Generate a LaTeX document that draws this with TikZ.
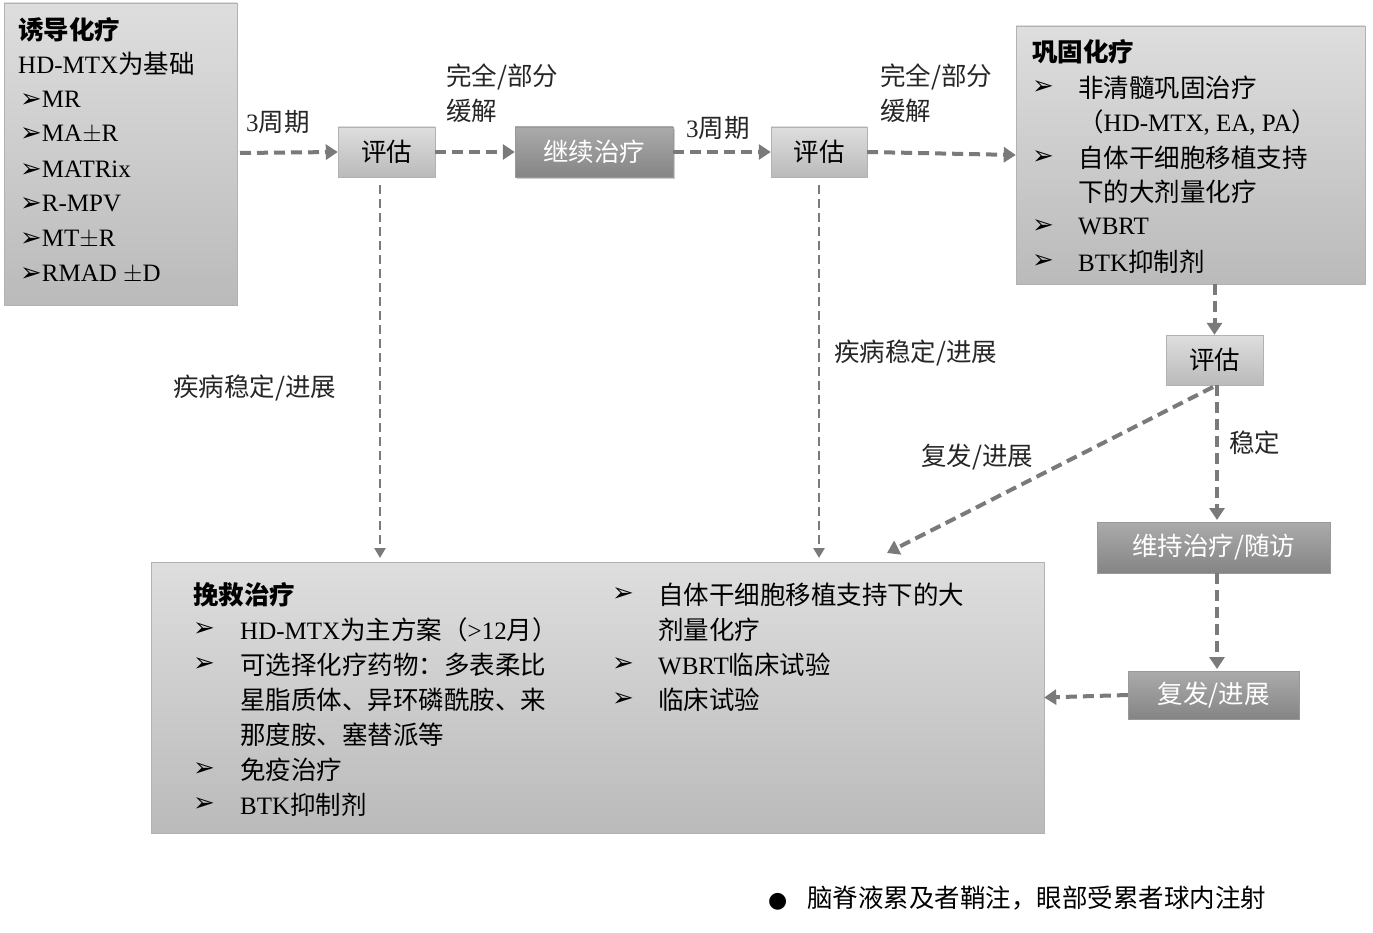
\documentclass[tikz,border=0pt]{standalone}
\usepackage{fontspec}
\setmainfont{Liberation Serif}
\newfontfamily\cjk{Noto Sans CJK SC}
\newfontfamily\dejavu{DejaVu Sans}
\newcommand{\zh}[1]{{\cjk\fontsize{25.5}{28}\selectfont #1}}
\newcommand{\arr}{{\dejavu\fontsize{26}{28}\selectfont ➢}}
\usetikzlibrary{shadows,arrows.meta}
\tikzset{
  lightbox/.style={draw=black!30, top color=black!13, bottom color=black!27, inner sep=0pt},
  darkbox/.style={draw=black!40, top color=black!33, bottom color=black!48, text=white, inner sep=0pt},
  flow/.style={draw=black!52, line width=4pt, dash pattern=on 11pt off 6pt, -{Triangle[length=12pt,width=15pt]}},
  thinflow/.style={draw=black!52, line width=2.8pt, dash pattern=on 9pt off 5pt, -{Triangle[length=10pt,width=11pt]}},
  lbl/.style={anchor=west, inner sep=0pt, text=black!85},
  ln/.style={anchor=west, inner sep=0pt}
}
\begin{document}
\begin{tikzpicture}[x=1pt,y=-1pt,font=\fontsize{25}{28}\selectfont]
\useasboundingbox (0,0) rectangle (1373,933);
% boxes
\node[lightbox, minimum width=233pt, minimum height=302pt] (induct) at (120.5,154) {};
\node[lightbox, minimum width=97pt, minimum height=50pt] (evalA) at (386.5,152) {\zh{评估}};
\node[darkbox, minimum width=158pt, minimum height=50pt, drop shadow={opacity=0.4}] (cont) at (594,152) {\zh{继续治疗}};
\node[lightbox, minimum width=96pt, minimum height=50pt] (evalB) at (819,152) {\zh{评估}};
\node[lightbox, minimum width=349pt, minimum height=258pt] (consol) at (1190.5,155) {};
\node[lightbox, minimum width=97pt, minimum height=50pt] (evalC) at (1214.5,360) {\zh{评估}};
\node[darkbox, minimum width=233pt, minimum height=51pt] (maint) at (1213.5,547.5) {\zh{维持治疗/随访}};
\node[darkbox, minimum width=171pt, minimum height=48pt] (relapse) at (1213.5,695) {\zh{复发/进展}};
\node[lightbox, minimum width=893pt, minimum height=271pt] (salv) at (597.5,697.5) {};
% induction text
\node[ln] (i0) at (18,30) {\zh{\bfseries 诱导化疗}};
\node[ln] (i1) at (18,64) {HD-MTX\zh{为基础}};
\foreach \t [count=\k] in {MR,MA$\pm$R,MATRix,R-MPV,MT$\pm$R,RMAD $\pm$D}
  \node[ln] (ib\k) at (20,64+\k*35) {\arr\t};
% consolidation text
\node[ln] (c0) at (1032,52) {\zh{\bfseries 巩固化疗}};
\node[ln] at (1032,88) {\arr};   \node[ln] at (1078,88) {\zh{非清髓巩固治疗}};
\node[ln] at (1078,123) {\zh{（}HD-MTX, EA, PA\zh{）}};
\node[ln] at (1032,158) {\arr};  \node[ln] at (1078,158) {\zh{自体干细胞移植支持}};
\node[ln] at (1078,192) {\zh{下的大剂量化疗}};
\node[ln] at (1032,227) {\arr};  \node[ln] at (1078,227) {WBRT};
\node[ln] at (1032,262) {\arr};  \node[ln] at (1078,262) {BTK\zh{抑制剂}};
% salvage text
\node[ln] at (193,595) {\zh{\bfseries 挽救治疗}};
\node[ln] at (193,630) {\arr}; \node[ln] at (240,630) {HD-MTX\zh{为主方案（}>12\zh{月）}};
\node[ln] at (193,665) {\arr}; \node[ln] at (240,665) {\zh{可选择化疗药物：多表柔比}};
\node[ln] at (240,700) {\zh{星脂质体、异环磷酰胺、来}};
\node[ln] at (240,735) {\zh{那度胺、塞替派等}};
\node[ln] at (193,770) {\arr}; \node[ln] at (240,770) {\zh{免疫治疗}};
\node[ln] at (193,805) {\arr}; \node[ln] at (240,805) {BTK\zh{抑制剂}};
\node[ln] at (612,595) {\arr}; \node[ln] at (658,595) {\zh{自体干细胞移植支持下的大}};
\node[ln] at (658,630) {\zh{剂量化疗}};
\node[ln] at (612,665) {\arr}; \node[ln] at (658,665) {WBRT\zh{临床试验}};
\node[ln] at (612,700) {\arr}; \node[ln] at (658,700) {\zh{临床试验}};
% footnote
\node[ln] (fn) at (768,898) {{\dejavu\fontsize{22}{24}\selectfont ●}\hspace{20pt}\zh{脑脊液累及者鞘注，眼部受累者球内注射}};
% connectors
\coordinate (start) at (240,153);
\coordinate (salvA) at (380,558);
\coordinate (salvB) at (819,558);
\coordinate (salvC) at (887,553);
\draw[flow] (start) -- (evalA.west);
\draw[flow] (evalA.east) -- (cont.west);
\draw[flow] (cont.east) -- (evalB.west);
\draw[flow] (evalB.east) -- (consol.west);
\draw[thinflow] (evalA.south -| salvA) ++(0,8) -- (salvA);
\draw[thinflow] (evalB.south) ++(0,8) -- (salvB);
\draw[flow] (consol.south -| evalC.north) -- (evalC.north);
\draw[flow] (1213,387) -- (salvC);
\draw[flow] (evalC.south -| 1217,0) -- (1217,520) coordinate (mtop);
\draw[flow] (maint.south -| 1217,0) -- (1217,669);
\draw[flow] (relapse.west) -- (salv.east);
% labels
\node[lbl] at (246,122) {3\zh{周期}};
\node[lbl] at (446,77) {\zh{完全/部分}};
\node[lbl] at (446,111) {\zh{缓解}};
\node[lbl] at (686,128) {3\zh{周期}};
\node[lbl] at (880,77) {\zh{完全/部分}};
\node[lbl] at (880,111) {\zh{缓解}};
\node[lbl] at (173,388) {\zh{疾病稳定/进展}};
\node[lbl] at (834,353) {\zh{疾病稳定/进展}};
\node[lbl] at (921,457) {\zh{复发/进展}};
\node[lbl] at (1229,443) {\zh{稳定}};
\end{tikzpicture}
\end{document}
